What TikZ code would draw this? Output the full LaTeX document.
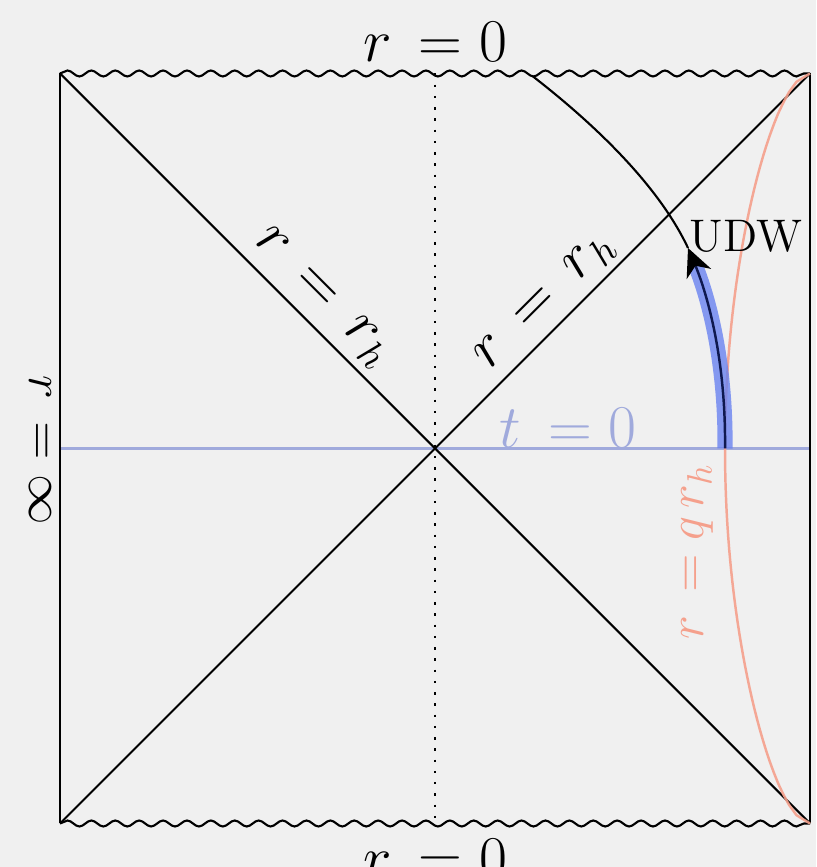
\documentclass[tikz,border=0pt]{standalone}
\usetikzlibrary{decorations.pathmorphing,arrows.meta}
\definecolor{bggray}{RGB}{240,240,240}
\definecolor{tzero}{RGB}{160,170,220}
\definecolor{qsalmon}{RGB}{245,160,140}
\definecolor{udwblue}{RGB}{105,130,240}
\definecolor{udwnavy}{RGB}{15,25,80}
\begin{document}
\begin{tikzpicture}[x=1cm, y=1cm,
  wall/.style={line width=0.6pt},
  sing/.style={line width=0.6pt, decorate,
    decoration={snake, segment length=6.8pt, amplitude=0.85pt}},
  lab/.style={font=\fontsize{16}{18}\selectfont, inner sep=1pt}]
  \useasboundingbox[fill=bggray] (-0.60,-0.435) rectangle (7.56,8.235);

  % Corners and centre of the diagram
  \coordinate (bl) at (0,0);
  \coordinate (br) at (7.5,0);
  \coordinate (tr) at (7.5,7.5);
  \coordinate (tl) at (0,7.5);
  \coordinate (mt) at (3.75,7.5);
  \coordinate (mb) at (3.75,0);
  \coordinate (ml) at (0,3.75);
  \coordinate (mr) at (7.5,3.75);

  % t = 0 slice
  \draw[tzero, line width=0.8pt] (ml) -- (mr);

  % Boundaries, horizons and singularities
  \draw[wall] (bl) -- (tl);
  \draw[wall] (br) -- (tr);
  \draw[wall] (bl) -- (tr);
  \draw[wall] (tl) -- (br);
  \draw[wall, dash pattern=on 0.7pt off 2.5pt] (mt) -- (mb);
  \draw[sing] (tl) -- (tr);
  \draw[sing] (bl) -- (br);

  % Curve r = q r_h
  \draw[qsalmon, opacity=0.9, line width=0.7pt] (br) -- plot[domain=-88:88, samples=70, variable=\t]
    ({7.5-0.85*pow(cos(\t),0.55)}, {3.75+3.75*\t/90}) -- (tr);

  % UDW trajectory
  \coordinate (start) at (6.65,3.75);
  \coordinate (tip) at (6.28,5.755);
  \coordinate (hit) at (4.73,7.47);
  \draw[udwblue, opacity=0.8, line width=4.3pt, shorten >=5pt]
    (start) .. controls (6.66,4.7) and (6.45,5.35) .. (tip);
  \draw[udwnavy, line width=0.7pt, -{Stealth[length=8pt, width=7.5pt, inset=2.5pt, black]}]
    (start) .. controls (6.66,4.7) and (6.45,5.35) .. (tip);
  \draw[wall] (tip) .. controls (6.0,6.35) and (5.4,6.95) .. (hit);

  % Labels
  \node[lab] (rtop) at (3.75,7.815) {$r\,= 0$};
  \node[lab] (rbot) at (3.75,-0.355) {$r\,= 0$};
  \node[lab, font=\fontsize{15}{17}\selectfont, rotate=-90] (rinf) at (-0.20,3.735) {$r\,= \infty$};
  \node[lab, text=tzero] (tlab) at (5.08,3.955) {$t\,= 0$};
  \node[lab, rotate=-45] (hleft) at (2.62,5.255) {$r\,=\,r_h$};
  \node[lab, rotate=45] (hright) at (4.86,5.215) {$r\,=\,r_h$};
  \node[lab, font=\fontsize{14}{16}\selectfont, text=qsalmon, rotate=90] (qlab) at (6.38,2.72) {$r\,= q\,r_h$};
  \node[font=\fontsize{13}{15}\selectfont, inner sep=1pt] (udw) at (6.86,5.875) {UDW};
\end{tikzpicture}
\end{document}
